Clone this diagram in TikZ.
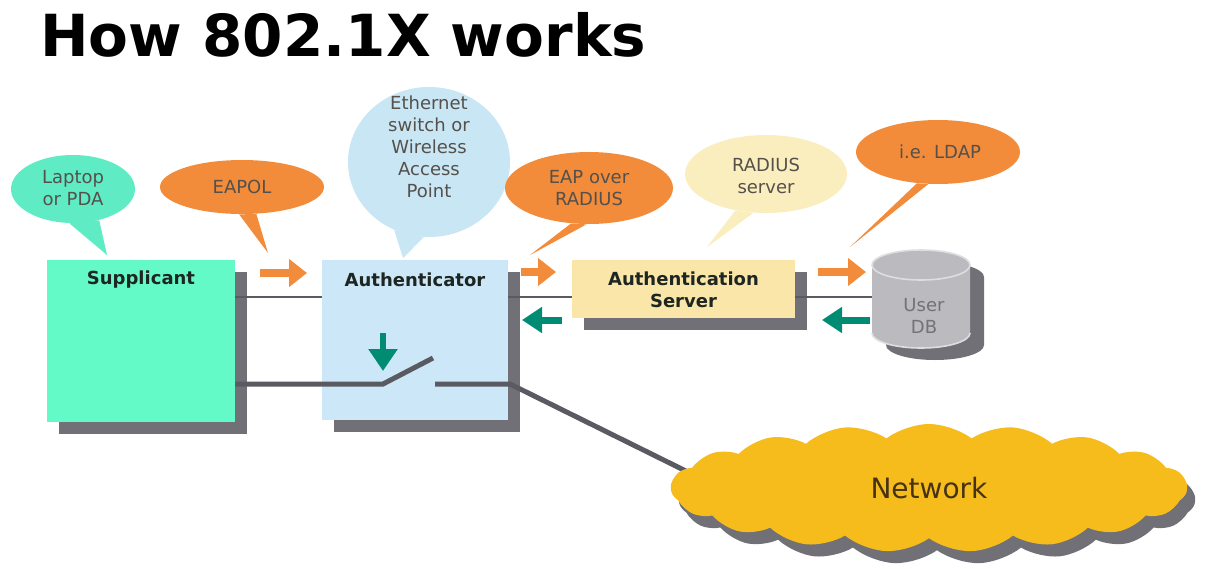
\documentclass[tikz,border=0pt]{standalone}
\usepackage{fontspec}
\setmainfont{DejaVu Sans}
\usetikzlibrary{shapes.geometric,shapes.symbols,arrows.meta,shadows}
\definecolor{supc}{RGB}{100,250,200}
\definecolor{lapc}{RGB}{95,236,196}
\definecolor{orangec}{RGB}{242,140,58}
\definecolor{authc}{RGB}{204,232,248}
\definecolor{ethc}{RGB}{200,230,244}
\definecolor{serverc}{RGB}{250,230,168}
\definecolor{radc}{RGB}{250,238,190}
\definecolor{shadc}{RGB}{112,112,118}
\definecolor{greenc}{RGB}{0,140,115}
\definecolor{cloudc}{RGB}{245,188,28}
\definecolor{dbc}{RGB}{186,186,191}
\definecolor{dbedge}{RGB}{222,222,226}
\definecolor{linec}{RGB}{90,90,98}
\definecolor{bubtext}{RGB}{85,80,75}
\definecolor{boxtext}{RGB}{30,38,34}
\tikzset{
  box/.style={rectangle, inner sep=0pt, draw=none,
    drop shadow={shadow xshift=6pt, shadow yshift=-6pt, fill=shadc, opacity=1}},
  boxlabel/.style={font=\bfseries\fontsize{9}{11}\selectfont, text=boxtext, align=center},
  bubble/.style={ellipse, inner sep=0pt, draw=none},
  bubtxt/.style={font=\fontsize{9}{11}\selectfont, text=bubtext, align=center},
  thinline/.style={draw=linec, line width=1.3pt},
  thickline/.style={draw=linec, line width=2.5pt},
  orarrow/.style={draw=orangec, line width=4pt, -{Triangle[length=9pt,width=13.5pt]}},
  grarrow/.style={draw=greenc, line width=3.5pt, -{Triangle[length=10pt,width=12.5pt]}},
}
\begin{document}
\begin{tikzpicture}[x=0.5pt,y=-0.5pt]
\useasboundingbox[fill=white] (0,0) rectangle (1205,568);

% title
\node[anchor=base west, inner sep=0pt, font=\bfseries\fontsize{29}{34}\selectfont] (title) at (40,56) {How 802.1X works};

% bubbles
\node[bubble, fill=lapc, minimum width=62pt, minimum height=34pt] (lap) at (73,189) {};
\coordinate (lapTip) at (107,255);
\fill[lapc] (lap.264) -- (lapTip) -- (lap.310) -- cycle;
\node[bubtxt] (lapT) at (73,188) {Laptop\\or PDA};

\node[bubble, fill=orangec, minimum width=82pt, minimum height=27pt] (eapol) at (242,187) {};
\coordinate (eapolTip) at (268,253);
\fill[orangec] (eapol.264) -- (eapolTip) -- (eapol.298) -- cycle;
\node[bubtxt] (eapolT) at (242,187) {EAPOL};

\node[bubble, fill=ethc, minimum width=81pt, minimum height=75pt] (eth) at (429,162) {};
\coordinate (ethTip) at (403,258);
\fill[ethc] (eth.243) -- (ethTip) -- (eth.266) -- cycle;
\node[bubtxt] (ethT) at (429,147) {Ethernet\\switch or\\Wireless\\Access\\Point};

\node[bubble, fill=orangec, minimum width=84pt, minimum height=36pt] (eap) at (589,188) {};
\coordinate (eapTip) at (530,255);
\fill[orangec] (eap.243) -- (eapTip) -- (eap.266) -- cycle;
\node[bubtxt] (eapT) at (589,188) {EAP over\\RADIUS};

\node[bubble, fill=radc, minimum width=81pt, minimum height=39pt] (rad) at (766,174) {};
\coordinate (radTip) at (707,247);
\fill[radc] (rad.230) -- (radTip) -- (rad.252) -- cycle;
\node[bubtxt] (radT) at (766,176) {RADIUS\\server};

\node[bubble, fill=orangec, minimum width=82pt, minimum height=32pt] (ldap) at (938,152) {};
\coordinate (ldapTip) at (850,247);
\fill[orangec] (ldap.236) -- (ldapTip) -- (ldap.253) -- cycle;
\node[bubtxt] (ldapT) at (940,152) {i.e. LDAP};

% boxes
\node[box, fill=supc, minimum width=94pt, minimum height=81pt] (sup) at (141,341) {};
\node[boxlabel] (supT) at (141,280) {Supplicant};
\node[box, fill=authc, minimum width=93pt, minimum height=80pt] (auth) at (415,340) {};
\node[boxlabel] (authT) at (415,280) {Authenticator};
\node[box, fill=serverc, minimum width=111.5pt, minimum height=29pt] (srv) at (683.5,289) {};
\node[boxlabel] (srvT) at (683.5,290) {Authentication\\Server};

% database cylinder
\node[minimum width=49pt, minimum height=49pt, inner sep=0pt] (db) at (921,299) {};
\fill[shadc] (886,277) -- (886,345) arc[start angle=180,end angle=360,x radius=24.5pt,y radius=7.5pt]
  -- (984,277) arc[start angle=0,end angle=180,x radius=24.5pt,y radius=7.5pt] -- cycle;
\fill[dbc] (872,265) -- (872,333) arc[start angle=180,end angle=360,x radius=24.5pt,y radius=7.5pt]
  -- (970,265) arc[start angle=0,end angle=180,x radius=24.5pt,y radius=7.5pt] -- cycle;
\draw[dbedge, line width=0.8pt] (921,265) ellipse[x radius=24.5pt, y radius=7.5pt];
\draw[dbedge, line width=0.8pt] (872,333) arc[start angle=180,end angle=360,x radius=24.5pt,y radius=7.5pt];
\node[bubtxt, text=black!55] (dbT) at (924,316) {User\\DB};

% helper levels
\coordinate (yTop) at (0,297);
\coordinate (swA) at (383,384);
\coordinate (swB) at (433,358);
\coordinate (swC) at (435,384);
\coordinate (swD) at (510,384);
\coordinate (netIn) at (700,478);

% lines
\draw[thinline] (sup.east |- yTop) -- (auth.west |- yTop);
\draw[thinline] (auth.east |- yTop) -- (srv.west |- yTop);
\draw[thinline] (srv.east |- yTop) -- (db.west |- yTop);
\draw[thickline] (sup.east |- swA) -- (swA) -- (swB);
\draw[thickline, line join=round] (swC) -- (swD) -- (netIn);

% cloud
\node[cloud, cloud puffs=19, cloud puff arc=75, cloud ignores aspect,
  minimum width=258pt, minimum height=64pt, inner sep=0pt, fill=cloudc,
  drop shadow={shadow xshift=4pt, shadow yshift=-6pt, fill=shadc, opacity=1},
  font=\fontsize{14}{16}\selectfont, text={rgb,255:red,70;green,50;blue,20}] (net) at (929,488) {Network};

% arrows
\coordinate (a1s) at (260,273); \coordinate (a1e) at (307,273);
\coordinate (a2s) at (521,272); \coordinate (a2e) at (556,272);
\coordinate (a3s) at (818,272); \coordinate (a3e) at (866,272);
\draw[orarrow] (a1s) -- (a1e);
\draw[orarrow] (a2s) -- (a2e);
\draw[orarrow] (a3s) -- (a3e);
\coordinate (g1s) at (562,320); \coordinate (g1e) at (522,320);
\coordinate (g2s) at (870,320); \coordinate (g2e) at (822,320);
\draw[grarrow] (g1s) -- (g1e);
\draw[grarrow] (g2s) -- (g2e);
\coordinate (g3s) at (383,333); \coordinate (g3e) at (383,371);
\draw[draw=greenc, line width=3pt, -{Triangle[length=11pt,width=14pt]}] (g3s) -- (g3e);
\end{tikzpicture}
\end{document}
